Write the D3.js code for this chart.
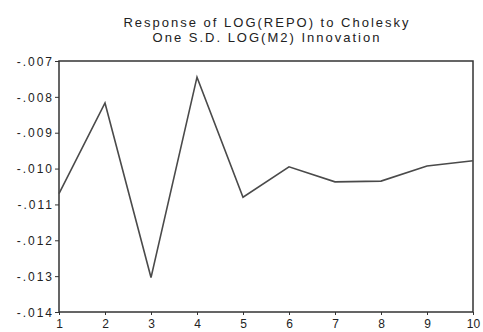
<!DOCTYPE html>
<html>
<head>
<meta charset="utf-8">
<script src="https://cdn.jsdelivr.net/npm/d3@7"></script>
<style>
  body { margin: 0; background: #fff; }
  text { font-family: "Liberation Sans", Arial, sans-serif; fill: #222; }
</style>
</head>
<body>
<svg id="chart" width="483" height="332"></svg>
<script>
const periods = [1, 2, 3, 4, 5, 6, 7, 8, 9, 10];
const response = [-0.01070, -0.00817, -0.01304, -0.00745, -0.01080, -0.00995, -0.01037, -0.01035, -0.00993, -0.00978];
const yTicks = [-0.007, -0.008, -0.009, -0.010, -0.011, -0.012, -0.013, -0.014];
const titleLines = ["Response of LOG(REPO) to Cholesky", "One S.D. LOG(M2) Innovation"];

const svg = d3.select("#chart");
const margin = { top: 61, right: 10, bottom: 20, left: 59 };
const width = +svg.attr("width");
const height = +svg.attr("height");

const x = d3.scaleLinear().domain([1, 10]).range([margin.left, width - margin.right]);
const y = d3.scaleLinear().domain([-0.014, -0.007]).range([height - margin.bottom, margin.top]);

// title
svg.append("g").selectAll("text").data(titleLines).enter().append("text")
    .attr("x", (margin.left + width - margin.right) / 2 + 1)
    .attr("y", (d, i) => 27 + i * 15)
    .attr("text-anchor", "middle")
    .style("font-size", "13px")
    .style("letter-spacing", "2px")
    .text(d => d);

const fmt = d => "-" + d3.format(".3f")(Math.abs(d)).replace(/^0/, "");

const yAxis = svg.append("g")
    .attr("transform", `translate(${margin.left},0)`)
    .call(d3.axisLeft(y).tickValues(yTicks).tickSize(4).tickFormat(fmt));
const xAxis = svg.append("g")
    .attr("transform", `translate(0,${height - margin.bottom})`)
    .call(d3.axisBottom(x).tickValues(periods).tickSize(3).tickFormat(d3.format("d")));

[yAxis, xAxis].forEach(a => {
    a.select(".domain").remove();
    a.selectAll("line").attr("stroke", "#333");
    a.selectAll("text").style("font-size", "12px").attr("fill", "#222");
});
yAxis.selectAll("text").attr("dy", "0.35em").attr("x", -5).style("letter-spacing", "2px");
xAxis.selectAll("text").attr("y", 7);

// frame
svg.append("rect")
    .attr("x", margin.left)
    .attr("y", margin.top)
    .attr("width", width - margin.left - margin.right)
    .attr("height", height - margin.top - margin.bottom)
    .attr("fill", "none")
    .attr("stroke", "#333")
    .attr("stroke-width", 1.5);

const line = d3.line()
    .x((d, i) => x(periods[i]))
    .y(d => y(d));

svg.append("path")
    .datum(response)
    .attr("d", line)
    .attr("fill", "none")
    .attr("stroke", "#4a4a4a")
    .attr("stroke-width", 1.6);
</script>
</body>
</html>
